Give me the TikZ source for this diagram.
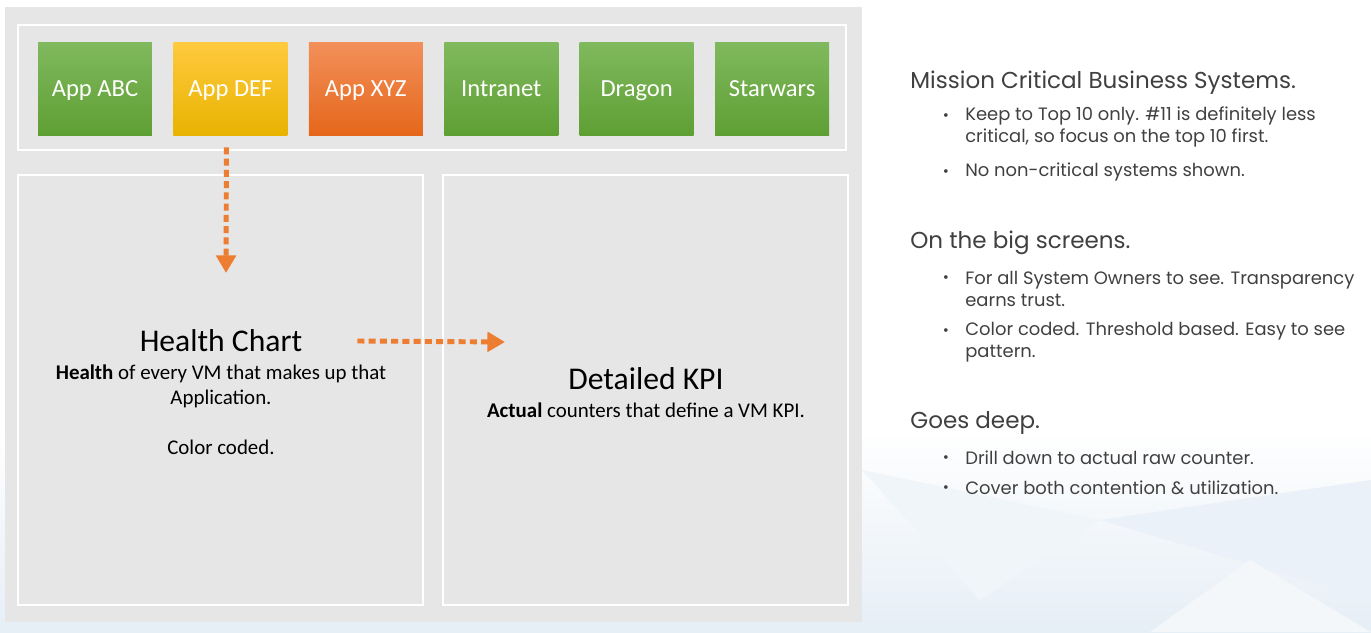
\documentclass[tikz,border=0pt]{standalone}
\usepackage{fontspec}
\setmainfont{Carlito}
\newfontfamily\notefont{Poppins}
\usetikzlibrary{positioning, arrows.meta}
\definecolor{panelgray}{HTML}{E6E6E6}
\definecolor{greentop}{HTML}{80B95E}
\definecolor{greenbot}{HTML}{5E9F33}
\definecolor{yellowtop}{HTML}{FFCA3E}
\definecolor{yellowbot}{HTML}{E8B300}
\definecolor{orangetop}{HTML}{F2905A}
\definecolor{orangebot}{HTML}{E5661A}
\definecolor{flowor}{HTML}{ED7D31}
\definecolor{notegray}{HTML}{404040}
\definecolor{bgblue}{HTML}{E6EEF6}

\begin{document}
\begin{tikzpicture}[x=0.02cm, y=-0.02cm, node distance=0.415cm]
        \tikzstyle{app}=[rectangle, minimum width=2.28cm, minimum height=1.88cm, inner sep=0pt, text height=9pt, text depth=0pt, text=white, font=\fontsize{14}{16}\selectfont];
        \tikzstyle{greenapp}=[app, top color=greentop, bottom color=greenbot];
        \tikzstyle{frame}=[draw=white, line width=1.1pt];
        \tikzstyle{title}=[font=\fontsize{18}{21}\selectfont];
        \tikzstyle{body}=[align=center, font=\fontsize{11.9}{14.2}\selectfont];
        \tikzstyle{flow}=[draw=flowor, line width=2.8pt, dash pattern=on 4pt off 2.4pt, -{Triangle[width=11pt,length=10pt]}];
        \tikzstyle{heading}=[anchor=west, inner sep=0pt, text=notegray, font=\notefont\fontsize{13.1}{15}\selectfont];
        \tikzstyle{point}=[anchor=west, inner sep=0pt, align=left, text=notegray, font=\notefont\fontsize{10.2}{12.5}\selectfont];
        \tikzstyle{dot}=[inner sep=0pt, text=notegray, font=\notefont\fontsize{8.5}{9}\selectfont];

        \useasboundingbox (0,0) rectangle (1371,632);
        % faint backdrop
        \fill[white] (0,0) rectangle (1371,632);
        \shade[top color=white, bottom color=bgblue] (0,430) rectangle (1371,632);
        \fill[bgblue!60] (862,470) -- (1100,520) -- (980,600) -- cycle;
        \fill[bgblue!80] (1100,520) -- (1371,480) -- (1371,600) -- cycle;
        \fill[bgblue!50] (1150,632) -- (1250,560) -- (1371,632) -- cycle;

        % panels
        \fill[panelgray] (5,7) rectangle (862,622);
        \draw[frame] (18,25) rectangle (846,150);
        \draw[frame] (18,175) rectangle (423,605);
        \draw[frame] (443,175) rectangle (848,605);

        % applications
        \node[greenapp] (abc) at (95,89) {App ABC};
        \node[app, right=of abc, top color=yellowtop, bottom color=yellowbot] (def) {App DEF};
        \node[app, right=of def, top color=orangetop, bottom color=orangebot] (xyz) {App XYZ};
        \node[greenapp, right=of xyz] (intranet) {Intranet};
        \node[greenapp, right=of intranet] (dragon) {Dragon};
        \node[greenapp, right=of dragon] (starwars) {Starwars};

        % charts
        \node[title] (health) at (221,341) {Health Chart};
        \node[body] (healthtxt) at (221,410) {\textbf{Health} of every VM that makes up that\\Application.\\ \\Color coded.};
        \node[title] (kpi) at (646,379) {Detailed KPI};
        \node[body] (kpitxt) at (646,410) {\textbf{Actual} counters that define a VM KPI.};
        \coordinate (healthin) at (226,273);
        \coordinate (kpiin) at (505,342);

        \path
        ([xshift=-0.08cm, yshift=-0.22cm]def.south) edge[flow] (healthin)
        ([xshift=0.98cm]health.east) edge[flow] (kpiin);

        % notes
        \node[heading] (mission) at (910,83) {Mission Critical Business Systems.};
        \node[point] (keep) at (965,127) {Keep to Top 10 only. \#11 is definitely less\\critical, so focus on the top 10 first.};
        \node[point] (nonc) at (965,172) {No non-critical systems shown.};
        \node[heading] (screens) at (910,243) {On the big screens.};
        \node[point] (owners) at (965,289) {For all System Owners to see. Transparency\\earns trust.};
        \node[point] (coded) at (965,342) {Color coded. Threshold based. Easy to see\\pattern.};
        \node[heading] (deep) at (910,423) {Goes deep.};
        \node[point] (drill) at (965,458) {Drill down to actual raw counter.};
        \node[point] (cover) at (965,488) {Cover both contention \& utilization.};
        \node[dot] (keepdot) at (946,117) {•};
        \node[dot] (noncdot) at (946,173) {•};
        \node[dot] (ownersdot) at (946,279) {•};
        \node[dot] (codeddot) at (946,332) {•};
        \node[dot] (drilldot) at (946,459) {•};
        \node[dot] (coverdot) at (946,489) {•};
      \end{tikzpicture}
\end{document}
